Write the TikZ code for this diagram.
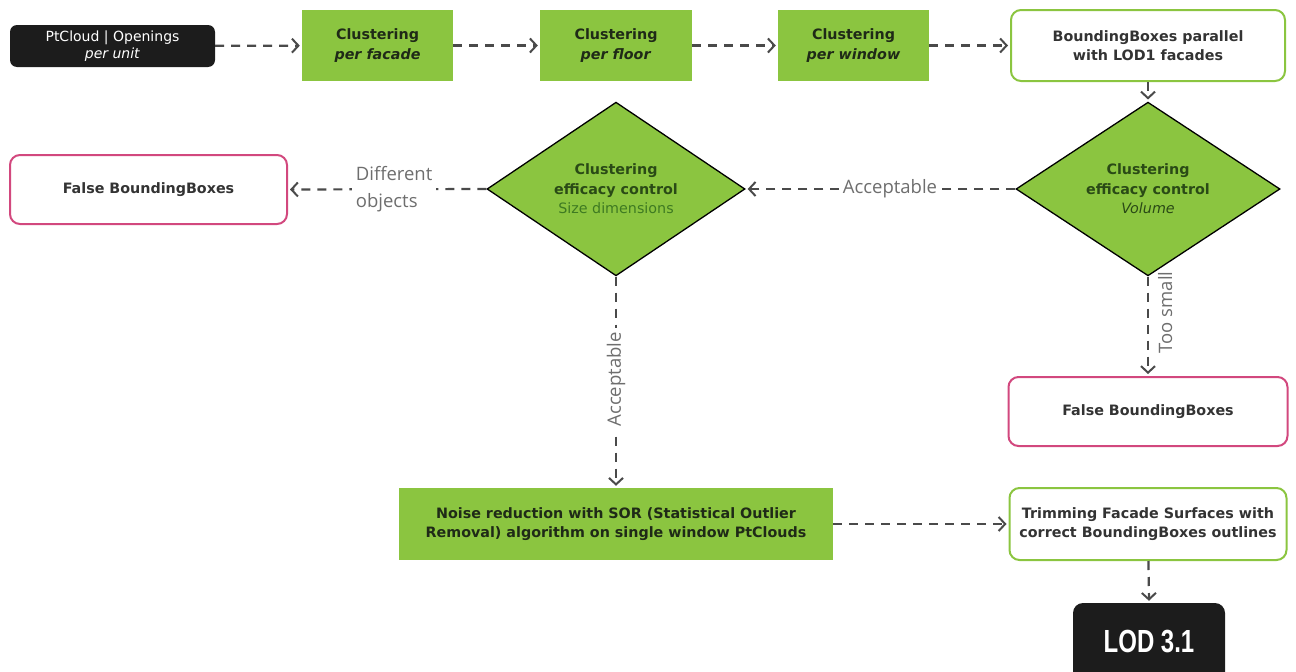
\documentclass[tikz,border=0pt]{standalone}
\usepackage{fontspec}
\setmainfont{DejaVu Sans}
\newfontfamily\labelfont{Open Sans}
\newfontfamily\lodfont[FakeStretch=0.75]{Liberation Sans}
\usetikzlibrary{shapes.geometric,arrows.meta}

\definecolor{leaf}{HTML}{8BC540}
\definecolor{ink}{HTML}{1F2A17}
\definecolor{deepleaf}{HTML}{2A4A16}
\definecolor{midleaf}{HTML}{3E7A22}
\definecolor{rose}{HTML}{D2487E}
\definecolor{flowgray}{HTML}{4A4A4A}
\definecolor{notegray}{HTML}{6E6E6E}
\definecolor{darkbox}{HTML}{1C1C1C}
\definecolor{plaintext}{HTML}{333333}

\tikzset{
  boxfont/.style={font=\fontsize{14.3}{19.5}\selectfont\bfseries},
  greenbox/.style={rectangle, fill=leaf, draw=none, text=ink, boxfont,
    align=center, inner sep=0pt, minimum height=71pt},
  okbox/.style={rectangle, rounded corners=10pt, draw=leaf, line width=2pt,
    fill=white, text=plaintext, boxfont, align=center, inner sep=0pt},
  badbox/.style={rectangle, rounded corners=10pt, draw=rose, line width=2pt,
    fill=white, text=plaintext, boxfont, align=center, inner sep=0pt},
  blackbox/.style={rectangle, rounded corners=7pt, fill=darkbox, draw=none,
    text=white, align=center, inner sep=0pt},
  decision/.style={diamond, fill=leaf, draw=black, line width=1.3pt,
    text=deepleaf, boxfont, align=center, inner sep=0pt},
  flow/.style={draw=flowgray, line width=2.2pt, dash pattern=on 9pt off 7pt,
    -{Straight Barb[length=6.5pt,width=14pt,line width=2pt]}, shorten >=2pt},
  lbl/.style={font=\labelfont\fontsize{18.5}{27}\selectfont, text=notegray,
    inner sep=4pt}
}

\begin{document}
\begin{tikzpicture}[x=1pt,y=-1pt]
\useasboundingbox (0,0) rectangle (1296,672);
\clip (0,0) rectangle (1296,672);

% top row
\node[blackbox, minimum width=205pt, minimum height=42pt,
      font=\fontsize{14}{17}\selectfont] (src) at (112.5,46)
  {PtCloud | Openings\\\textit{per unit}};
\node[greenbox, minimum width=151pt] (facade) at (377.5,45.5)
  {Clustering\\\textit{per facade}};
\node[greenbox, minimum width=152pt] (floor) at (616,45.5)
  {Clustering\\\textit{per floor}};
\node[greenbox, minimum width=151pt] (window) at (853.5,45.5)
  {Clustering\\\textit{per window}};
\node[okbox, minimum width=274pt, minimum height=71pt] (parallel) at (1148,45.5)
  {BoundingBoxes parallel\\with LOD1 facades};

% decisions
\node[decision, minimum width=264pt, minimum height=114pt] (volume) at (1148,189)
  {Clustering\\efficacy control\\{\mdseries\itshape Volume}};
\node[decision, minimum width=258pt, minimum height=112pt] (size) at (616,189)
  {Clustering\\efficacy control\\{\mdseries\color{midleaf}Size dimensions}};

% rejected clusters
\node[badbox, minimum width=277pt, minimum height=69pt] (falseL) at (148.5,189.5)
  {False BoundingBoxes};
\node[badbox, minimum width=279pt, minimum height=69pt] (falseR) at (1148,411.5)
  {False BoundingBoxes};

% bottom row
\node[greenbox, minimum width=434pt, minimum height=72pt] (noise) at (616,524)
  {Noise reduction with SOR (Statistical Outlier\\Removal) algorithm on single window PtClouds};
\node[okbox, minimum width=277pt, minimum height=72pt] (trim) at (1148,524)
  {Trimming Facade Surfaces with\\correct BoundingBoxes outlines};
\node[blackbox, rounded corners=10pt, minimum width=152pt, minimum height=84pt,
      font=\lodfont\fontsize{32}{36}\selectfont\bfseries] (lod) at (1149,645)
  {\raisebox{8pt}{LOD 3.1}};

% connectors
\draw[flow] (src) -- (facade);
\draw[flow] (facade) -- (floor);
\draw[flow] (floor) -- (window);
\draw[flow] (window) -- (parallel);
\draw[flow] (parallel) -- (volume);
\draw[flow] (volume.west) -- node[lbl, fill=white, pos=0.465] {Acceptable} (size.east);
\draw[flow] (size.west) -- node[lbl, fill=white, pos=0.465, align=left] {Different\\objects} (falseL.east);
\draw[flow] (size.south) -- node[lbl, fill=white, pos=0.486, rotate=90] {Acceptable} (noise.north);
\draw[flow] (volume.south) -- node[lbl, pos=0.36, anchor=north, rotate=90,
    inner xsep=2pt, inner ysep=9pt] {Too small} (falseR.north);
\draw[flow] (noise) -- (trim);
\draw[flow] (trim) -- (lod.north);
\end{tikzpicture}
\end{document}
